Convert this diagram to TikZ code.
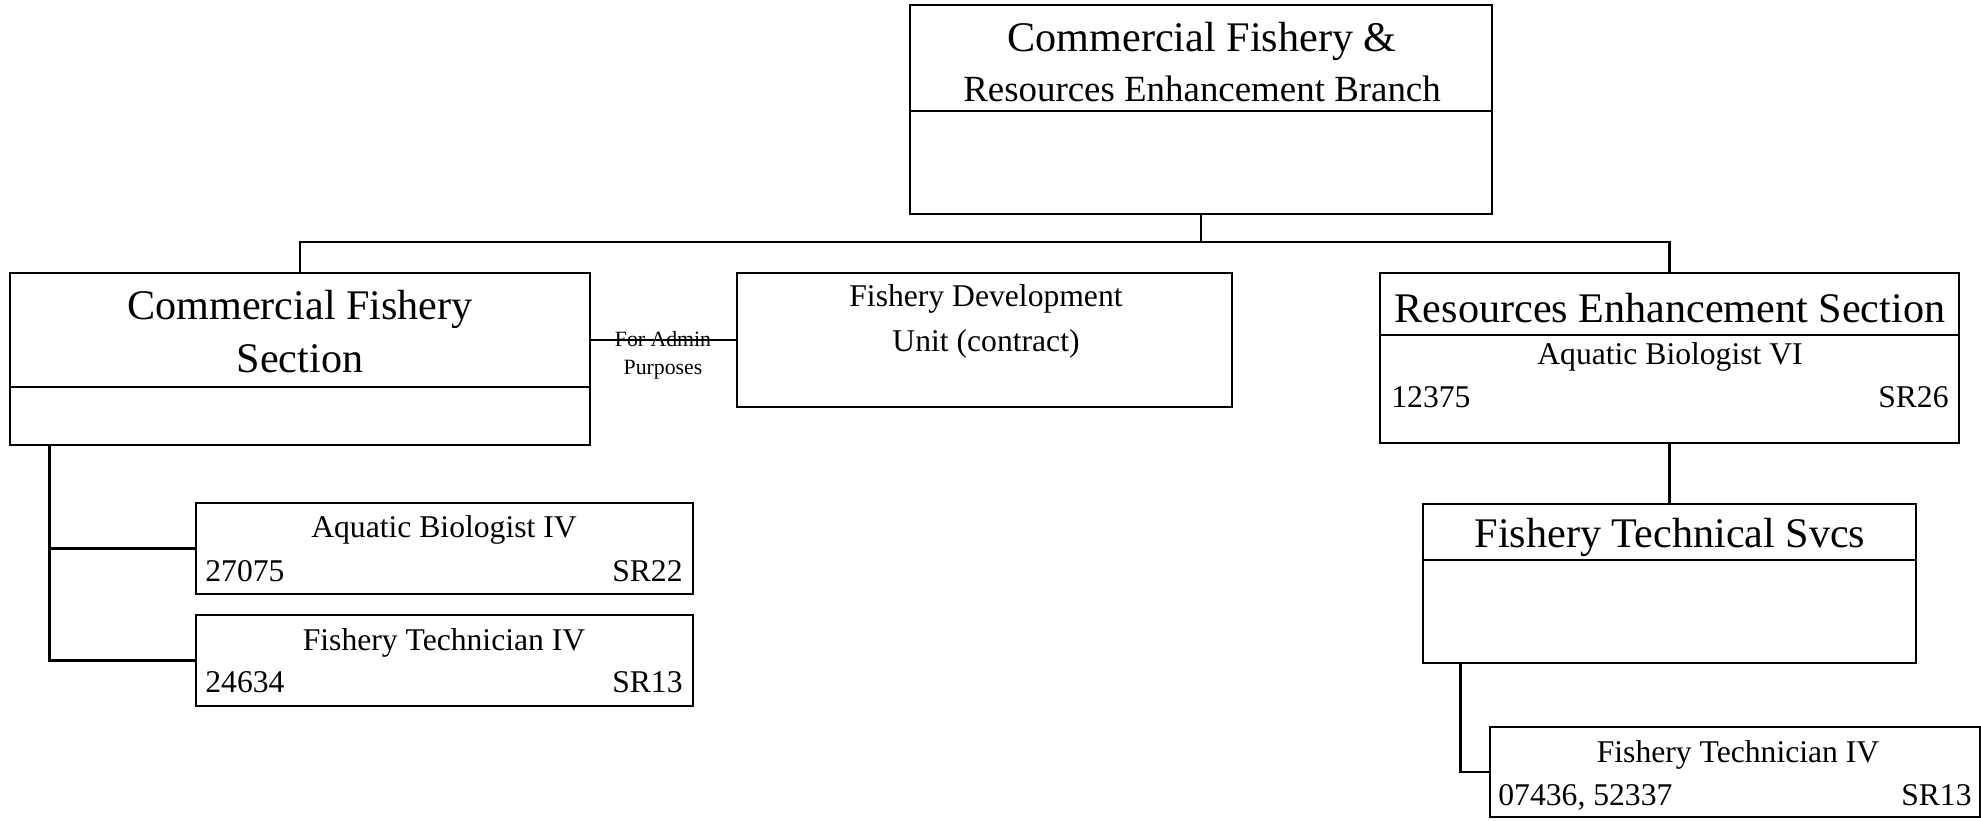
\documentclass[tikz,border=0pt]{standalone}
\usepackage{fontspec}
\setmainfont{Liberation Serif}

\tikzset{
  unit/.style={draw,inner sep=0pt},
  big/.style={inner sep=0pt,font=\fontsize{12}{14}\selectfont},
  small/.style={inner sep=0pt,font=\fontsize{9}{11}\selectfont},
  tiny/.style={inner sep=0pt,font=\fontsize{6.2}{7}\selectfont},
}

\begin{document}
\begin{tikzpicture}[line width=0.8pt]
\useasboundingbox (0,0) rectangle (19.81,8.20);
\draw (12.01,7.105) node[unit,minimum width=5.82cm,minimum height=2.09cm](branch) {};
\draw (3.00,4.61) node[unit,minimum width=5.80cm,minimum height=1.72cm](cfs) {};
\draw (9.845,4.80) node[unit,minimum width=4.95cm,minimum height=1.34cm](fdu) {};
\draw (16.695,4.62) node[unit,minimum width=5.79cm,minimum height=1.70cm](res) {};
\draw (16.695,2.365) node[unit,minimum width=4.93cm,minimum height=1.59cm](fts) {};
\draw (4.445,2.715) node[unit,minimum width=4.97cm,minimum height=0.91cm](bio) {};
\draw (4.445,1.595) node[unit,minimum width=4.97cm,minimum height=0.91cm](tech) {};
\draw (17.35,0.48) node[unit,minimum width=4.90cm,minimum height=0.90cm](techtwo) {};
\draw (branch.west |- 0,7.09) -- (branch.east |- 0,7.09);
\draw (cfs.west |- 0,4.33) -- (cfs.east |- 0,4.33);
\draw (res.west |- 0,4.85) -- (res.east |- 0,4.85);
\draw (fts.west |- 0,2.60) -- (fts.east |- 0,2.60);
% texts
\draw (12.02,7.68) node[big,anchor=base](branchone) {Commercial Fishery \&};
\draw (12.02,7.18) node[big,anchor=base,font=\fontsize{10.5}{12}\selectfont](branchtwo) {Resources Enhancement Branch};
\draw (3.00,5.00) node[big,anchor=base](cfsone) {Commercial Fishery};
\draw (3.00,4.47) node[big,anchor=base](cfstwo) {Section};
\draw (9.86,5.13) node[small,anchor=base](fduone) {Fishery Development};
\draw (9.86,4.68) node[small,anchor=base](fdutwo) {Unit (contract)};
\draw (6.63,4.73) node[tiny,anchor=base](adminone) {For Admin};
\draw (6.63,4.45) node[tiny,anchor=base](admintwo) {Purposes};
\draw (16.70,4.97) node[big,anchor=base](resone) {Resources Enhancement Section};
\draw (16.70,4.55) node[small,anchor=base](restwo) {Aquatic Biologist VI};
\draw (13.90,4.12) node[small,anchor=base west](resnum) {12375};
\draw (19.50,4.12) node[small,anchor=base east](resgrade) {SR26};
\draw (16.70,2.72) node[big,anchor=base](ftsone) {Fishery Technical Svcs};
\draw (4.44,2.82) node[small,anchor=base](bioone) {Aquatic Biologist IV};
\draw (2.04,2.38) node[small,anchor=base west](bionum) {27075};
\draw (6.84,2.38) node[small,anchor=base east](biograde) {SR22};
\draw (4.44,1.70) node[small,anchor=base](techone) {Fishery Technician IV};
\draw (2.04,1.27) node[small,anchor=base west](technum) {24634};
\draw (6.84,1.27) node[small,anchor=base east](techgrade) {SR13};
\draw (17.38,0.58) node[small,anchor=base](techtwoone) {Fishery Technician IV};
\draw (14.97,0.15) node[small,anchor=base west](techtwonum) {07436, 52337};
\draw (19.73,0.15) node[small,anchor=base east](techtwograde) {SR13};
% lines
\coordinate (bus) at (12.01,5.78);
\draw (branch.south) -- (bus);
\draw (cfs.north) |- (bus);
\draw (res.north) |- (bus);
\draw (fdu.west) -- (fdu.west -| cfs.east);
\draw (res.south) -- (fts.north);
\coordinate (cfsdrop) at ([xshift=0.41cm]cfs.south west);
\draw (cfsdrop) |- (tech.west);
\draw (cfsdrop |- bio.west) -- (bio.west);
\coordinate (ftsdrop) at ([xshift=0.39cm]fts.south west);
\draw (ftsdrop) |- (techtwo.west);
\end{tikzpicture}
\end{document}
